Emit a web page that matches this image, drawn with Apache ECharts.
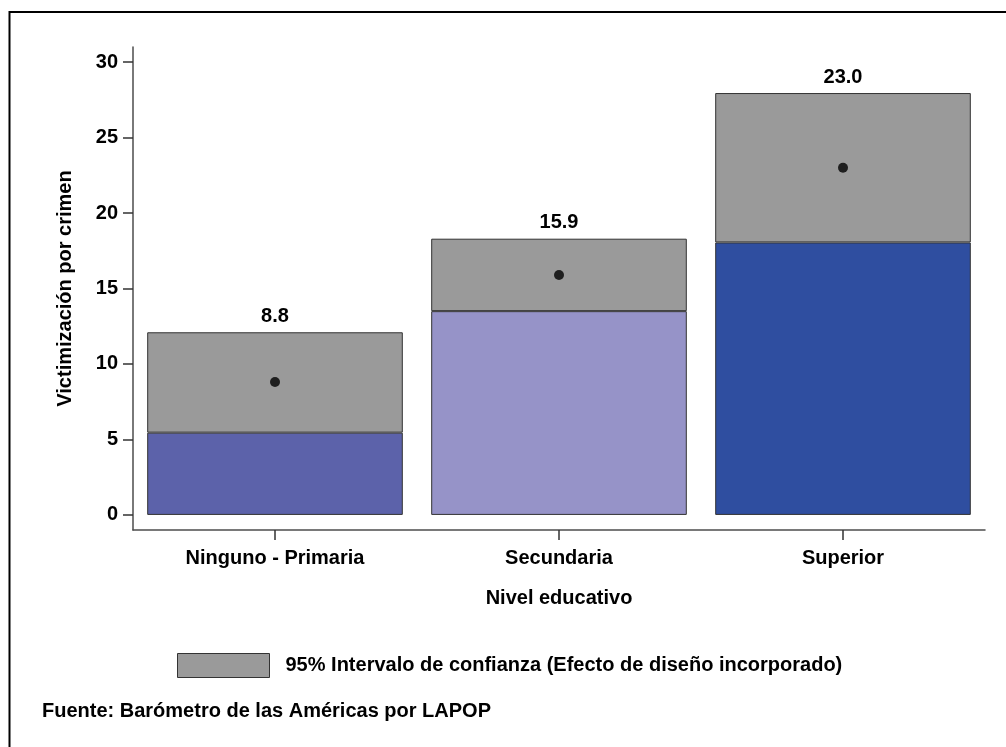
<!DOCTYPE html>
<html><head><meta charset="utf-8">
<script src="https://cdn.jsdelivr.net/npm/echarts@6/dist/echarts.min.js"></script>
<style>html,body{margin:0;padding:0;background:#fff}#c{width:1006px;height:747px}</style>
</head><body><div id="c"></div>
<script>
const categories = ['Ninguno - Primaria', 'Secundaria', 'Superior'];
const means = [8.8, 15.9, 23.0];
const ciLower = [5.45, 13.5, 18.05];
const ciUpper = [12.1, 18.3, 27.95];
const barColors = ['#5C62AA', '#9693C8', '#2F4EA0'];
const yTicks = [0, 5, 10, 15, 20, 25, 30];
const legendLabel = '95% Intervalo de confianza (Efecto de diseño incorporado)';
const sourceText = 'Fuente: Barómetro de las Américas por LAPOP';
const xTitle = 'Nivel educativo';
const yTitle = 'Victimización por crimen';

const FONT = '"Liberation Sans", Arial, Helvetica, sans-serif';
const FS = 20;
const ciSpan = ciUpper.map((u, i) => +(u - ciLower[i]).toFixed(3));

const chart = echarts.init(document.getElementById('c'), null, {renderer: 'canvas'});
chart.setOption({
  animation: false,
  backgroundColor: '#fff',
  textStyle: {fontFamily: FONT, fontWeight: 'bold', color: '#000'},
  title: {
    text: sourceText, left: 37, top: 696,
    textStyle: {fontFamily: FONT, fontWeight: 'bold', fontSize: FS, color: '#000'}
  },
  legend: {
    data: [legendLabel], left: 172, top: 648,
    itemWidth: 92, itemHeight: 24, icon: 'rect',
    itemStyle: {color: '#9A9A9A', borderColor: '#333', borderWidth: 1},
    textStyle: {fontFamily: FONT, fontWeight: 'bold', fontSize: FS, color: '#000', padding: [0, 0, 0, 11]}
  },
  graphic: [{
    type: 'rect', silent: true,
    shape: {x: 9.5, y: 12, width: 1200, height: 900},
    style: {fill: 'none', stroke: '#000', lineWidth: 2}
  }],
  grid: {left: 133, right: 21, top: 47, bottom: 217, containLabel: false},
  xAxis: {
    type: 'category', data: categories,
    name: xTitle, nameLocation: 'middle', nameGap: 58,
    nameTextStyle: {fontFamily: FONT, fontWeight: 'bold', fontSize: FS, color: '#000'},
    axisLine: {show: true, onZero: false, lineStyle: {color: '#4d4d4d', width: 1.5}},
    axisTick: {show: true, alignWithLabel: true, length: 10, lineStyle: {color: '#333', width: 1.5}},
    axisLabel: {margin: 18, fontFamily: FONT, fontWeight: 'bold', fontSize: FS, color: '#000'}
  },
  yAxis: {
    type: 'value', min: -1, max: 31,
    name: yTitle, nameLocation: 'middle', nameRotate: 90, nameGap: 58,
    nameTextStyle: {fontFamily: FONT, fontWeight: 'bold', fontSize: FS, color: '#000'},
    splitLine: {show: false},
    axisLine: {show: true, lineStyle: {color: '#4d4d4d', width: 1.5}},
    axisTick: {show: true, length: 10, customValues: yTicks, lineStyle: {color: '#333', width: 1.5}},
    axisLabel: {margin: 15, customValues: yTicks, fontFamily: FONT, fontWeight: 'bold', fontSize: FS, color: '#000'}
  },
  series: [
    {
      name: 'base', type: 'bar', stack: 'ci', barCategoryGap: '10%',
      data: ciLower.map((v, i) => ({value: v, itemStyle: {color: barColors[i]}})),
      itemStyle: {borderColor: '#333', borderWidth: 1}
    },
    {
      name: legendLabel, type: 'bar', stack: 'ci', barCategoryGap: '10%',
      data: ciSpan,
      itemStyle: {color: '#9A9A9A', borderColor: '#333', borderWidth: 1},
      label: {
        show: true, position: 'top', distance: 6,
        formatter: p => means[p.dataIndex].toFixed(1),
        fontFamily: FONT, fontWeight: 'bold', fontSize: FS, color: '#000'
      }
    },
    {
      name: 'mean', type: 'scatter', data: means, symbolSize: 10, z: 10,
      itemStyle: {color: '#000'}
    }
  ]
});
</script></body></html>
